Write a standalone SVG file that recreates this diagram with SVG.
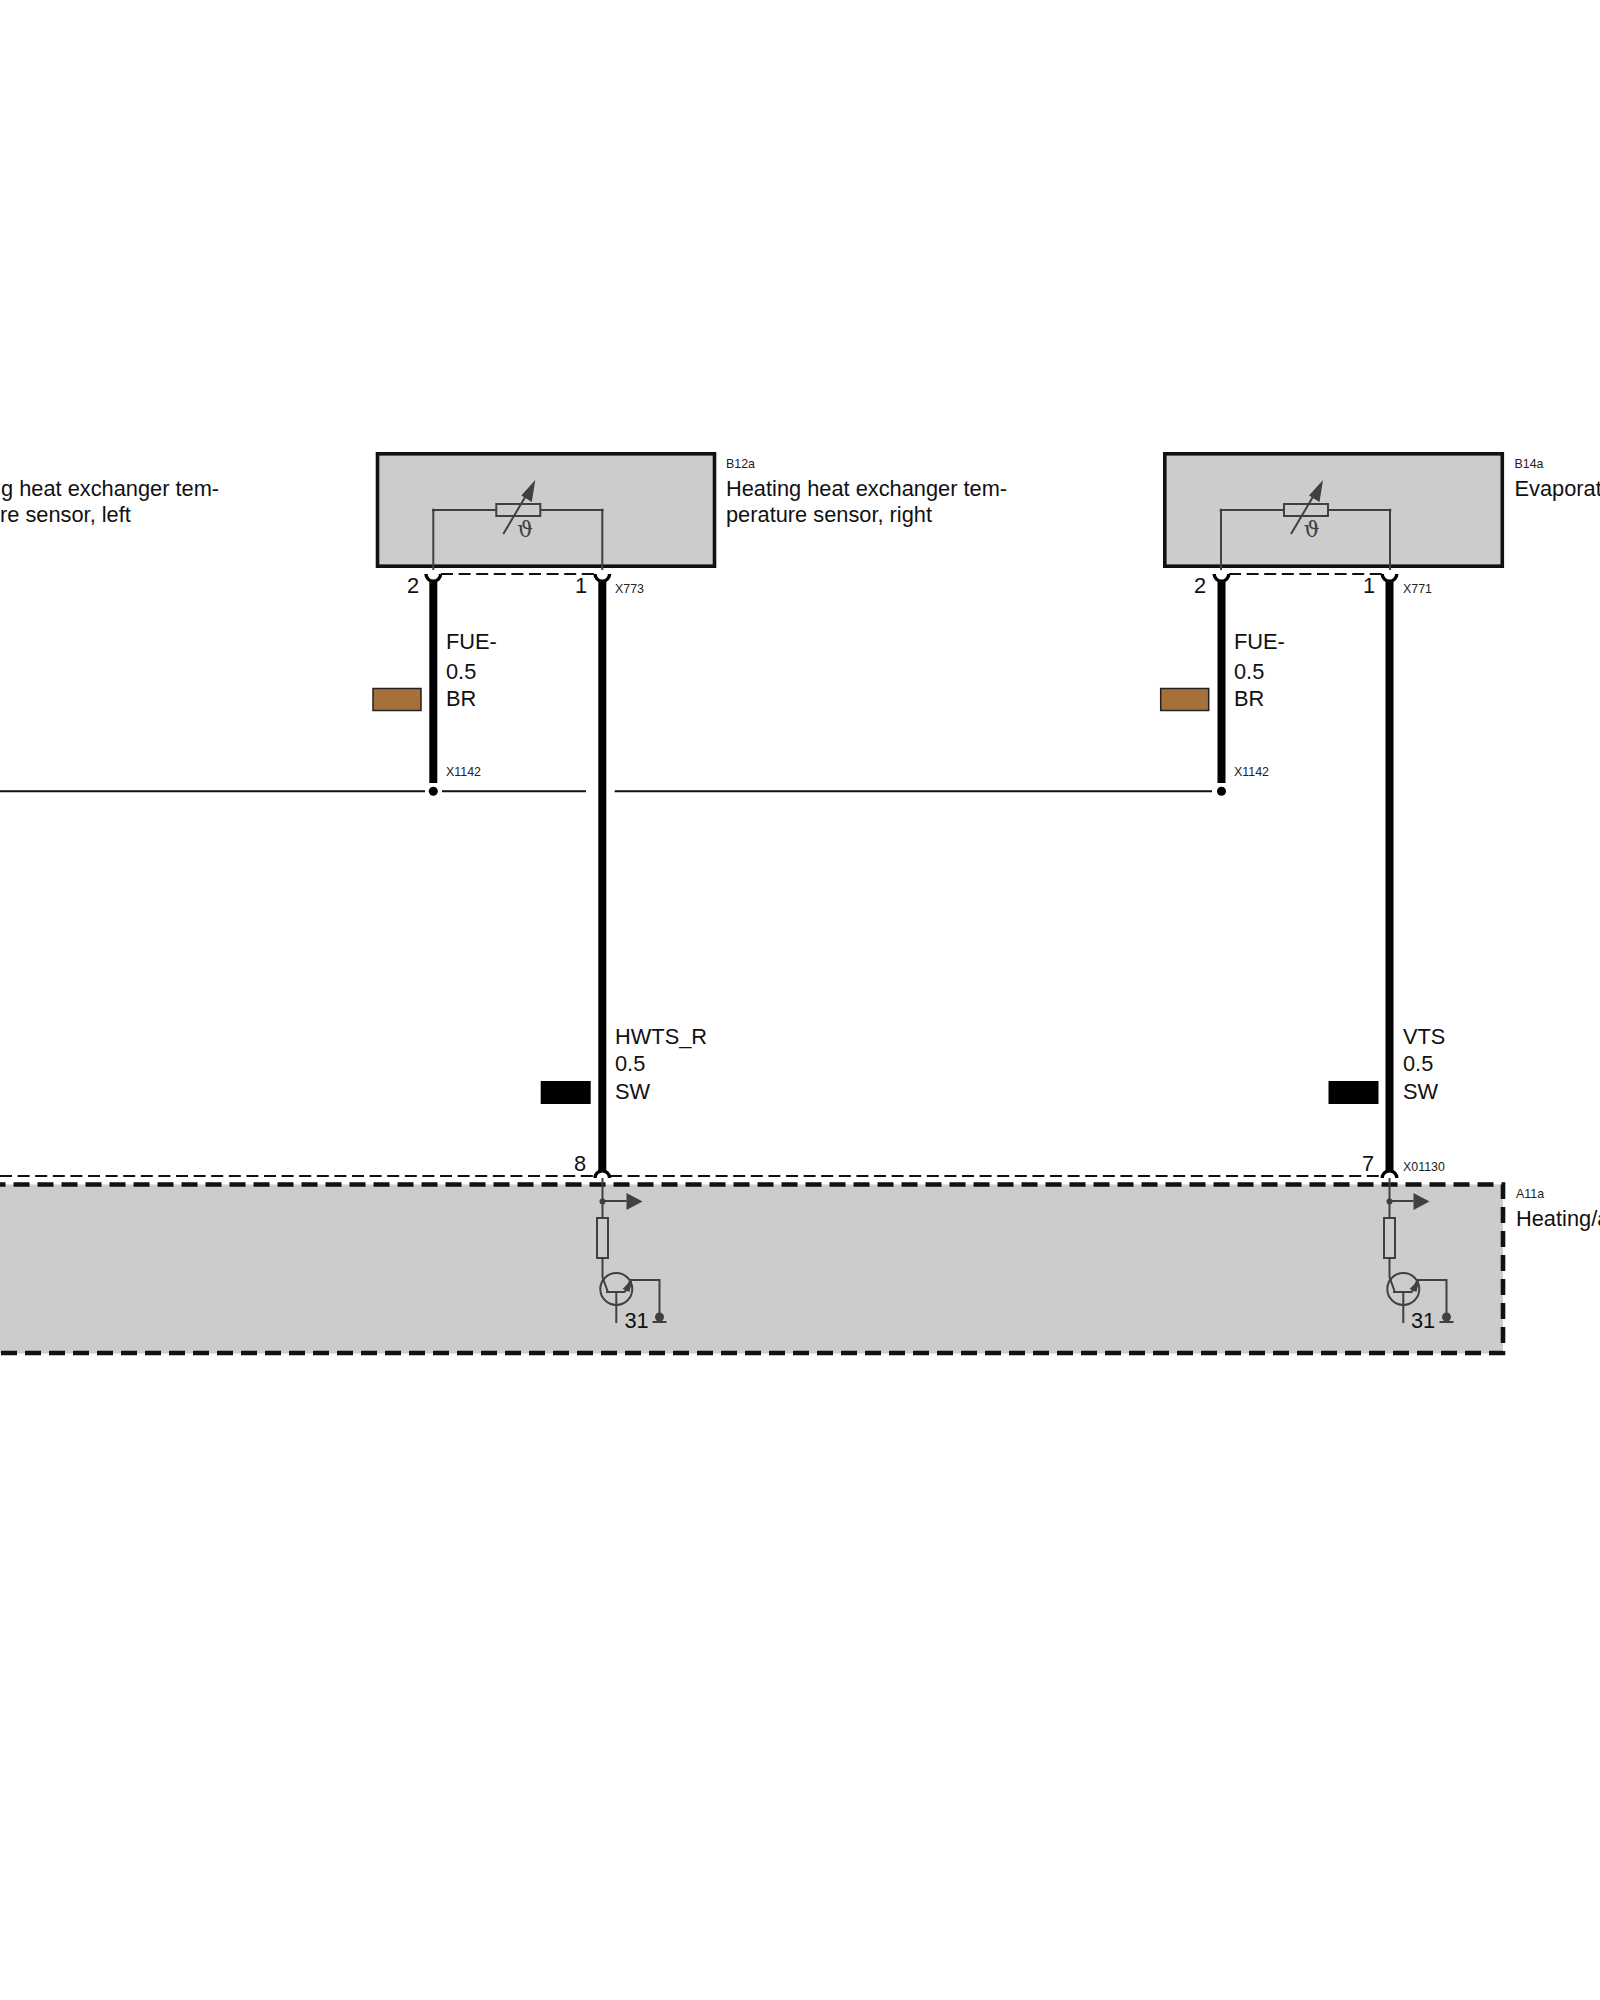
<svg xmlns="http://www.w3.org/2000/svg" xmlns:xlink="http://www.w3.org/1999/xlink" width="1600" height="2000" viewBox="0 0 1600 2000">
<style>
text{font-family:"Liberation Sans",Arial,sans-serif;fill:#111}
.l{font-size:21.8px}
.s{font-size:12.4px;fill:#222}
.box{fill:#ccc;stroke:#111;stroke-width:3.6}
.mod{fill:#ccc;stroke:none}
.modb{fill:none;stroke:#111;stroke-width:4.6;stroke-dasharray:16 8}
.w{fill:none;stroke:#000;stroke-width:8}
.t{fill:none;stroke:#111;stroke-width:2}
.td{fill:none;stroke:#111;stroke-width:2;stroke-dasharray:12 5.6}
.hat{fill:#fff;stroke:#000;stroke-width:3.400}
.c{fill:none;stroke:#404040;stroke-width:2}
.cf{fill:#404040;stroke:none}
.sym{font-family:"DejaVu Serif",serif;font-size:22px;fill:#404040;text-anchor:middle}
</style>
<defs>
<g id="sensor">
<path class="c" d="M0 570V510H63M107 510H169V570"/>
<rect class="c" x="63" y="504" width="44" height="12"/>
<path class="c" d="M70 534L96 490"/>
<polygon class="cf" points="102,480 98.500,502 88,495.500"/>
<circle class="cf" cx="0" cy="510" r="1.500"/>
<circle class="cf" cx="169" cy="510" r="1.500"/>
</g>
<g id="output">
<path class="c" d="M0 1178V1218M0 1201H24M0 1258V1277L5 1291M3.500 1292H22.500M13.800 1292V1323M22.500 1292L28 1280H57V1318"/>
<rect class="c" x="-5.500" y="1218" width="11" height="40"/>
<circle class="c" cx="13.800" cy="1289" r="16"/>
<circle class="cf" cx="0" cy="1201.500" r="3"/>
<polygon class="cf" points="24,1193 40,1201.500 24,1210"/>
<polygon class="cf" points="20,1289 30,1279 27,1292"/>
<circle class="cf" cx="57" cy="1317" r="4.500"/>
<path class="c" d="M50 1322H64"/>
</g>
</defs>
<rect width="1600" height="2000" fill="#fff"/>
<g id="A11a">
<rect class="mod" x="0" y="1184.500" width="1503" height="169"/>
<path class="modb" d="M-10.500 1184.500H1503V1353H0"/>
<use href="#output" xlink:href="#output" x="602.500"/>
<use href="#output" xlink:href="#output" x="1389.500"/>
<text class="s" x="1516" y="1198">A11a</text>
<text class="l" x="1516" y="1226">Heating/a</text>
<text class="l" x="1411" y="1328" id="t31">31</text>
<text class="l" x="624.500" y="1328">31</text>
</g>
<g id="B12a">
<rect class="box" x="377.500" y="453.800" width="337" height="112.400"/>
<use href="#sensor" xlink:href="#sensor" x="433.300"/>
<text class="sym" x="525" y="537">ϑ</text>
<text class="s" x="726" y="468">B12a</text>
<text class="l" x="726" y="496">Heating heat exchanger tem-</text>
<text class="l" x="726" y="522">perature sensor, right</text>
<text class="l" x="407" y="593">2</text>
<text class="l" x="575" y="593">1</text>
<text class="s" x="615" y="593">X773</text>
</g>
<g id="B14a">
<rect class="box" x="1164.800" y="453.800" width="337.500" height="112.400"/>
<use href="#sensor" xlink:href="#sensor" x="1221"/>
<text class="sym" x="1311.500" y="537">ϑ</text>
<text class="s" x="1514.500" y="468">B14a</text>
<text class="l" x="1514.500" y="496">Evaporat</text>
<text class="l" x="1194" y="593">2</text>
<text class="l" x="1363" y="593">1</text>
<text class="s" x="1403" y="593">X771</text>
</g>
<g id="left-sensor-label">
<text class="l" x="1" y="496">g heat exchanger tem-</text>
<text class="l" x="0" y="522">re sensor, left</text>
</g>
<g id="connectors">
<path class="td" d="M441 574H595M1229 574H1382"/>
<path class="td" d="M0 1176H594M610 1176H1382"/>
<path class="t" d="M0 791.300H425M442 791.300H586M614.700 791.300H1212"/>
<path class="w" d="M433.300 580V783"/>
<path class="w" d="M602.300 580V1172"/>
<path class="w" d="M1221.500 580V783"/>
<path class="w" d="M1389.500 580V1172"/>
<circle cx="433.300" cy="791.300" r="4.500" fill="#000"/>
<circle cx="1221.500" cy="791.300" r="4.500" fill="#000"/>
<path class="hat" d="M426 574A7.300 7.300 0 0 0 440.600 574"/>
<path class="hat" d="M595 574A7.300 7.300 0 0 0 609.600 574"/>
<path class="hat" d="M1214.200 574A7.300 7.300 0 0 0 1228.800 574"/>
<path class="hat" d="M1382.200 574A7.300 7.300 0 0 0 1396.800 574"/>
<path class="hat" d="M595 1178A7.300 7.300 0 0 1 609.600 1178"/>
<path class="hat" d="M1382.200 1178A7.300 7.300 0 0 1 1396.800 1178"/>
</g>
<g id="wire-labels">
<rect x="373" y="688.500" width="48" height="22" fill="#a5703a" stroke="#222" stroke-width="1.500"/>
<rect x="1160.700" y="688.500" width="48" height="22" fill="#a5703a" stroke="#222" stroke-width="1.500"/>
<rect x="540.700" y="1081" width="50" height="23" fill="#000"/>
<rect x="1328.500" y="1081" width="50" height="23" fill="#000"/>
<text class="l" x="446" y="649">FUE-</text>
<text class="l" x="446" y="679">0.5</text>
<text class="l" x="446" y="706">BR</text>
<text class="s" x="446" y="776">X1142</text>
<text class="l" x="1234" y="649">FUE-</text>
<text class="l" x="1234" y="679">0.5</text>
<text class="l" x="1234" y="706">BR</text>
<text class="s" x="1234" y="776">X1142</text>
<text class="l" x="615" y="1044">HWTS_R</text>
<text class="l" x="615" y="1071">0.5</text>
<text class="l" x="615" y="1099">SW</text>
<text class="l" x="1403" y="1044">VTS</text>
<text class="l" x="1403" y="1071">0.5</text>
<text class="l" x="1403" y="1099">SW</text>
<text class="l" x="574" y="1171">8</text>
<text class="l" x="1362" y="1171">7</text>
<text class="s" x="1403" y="1171">X01130</text>
</g>
</svg>
